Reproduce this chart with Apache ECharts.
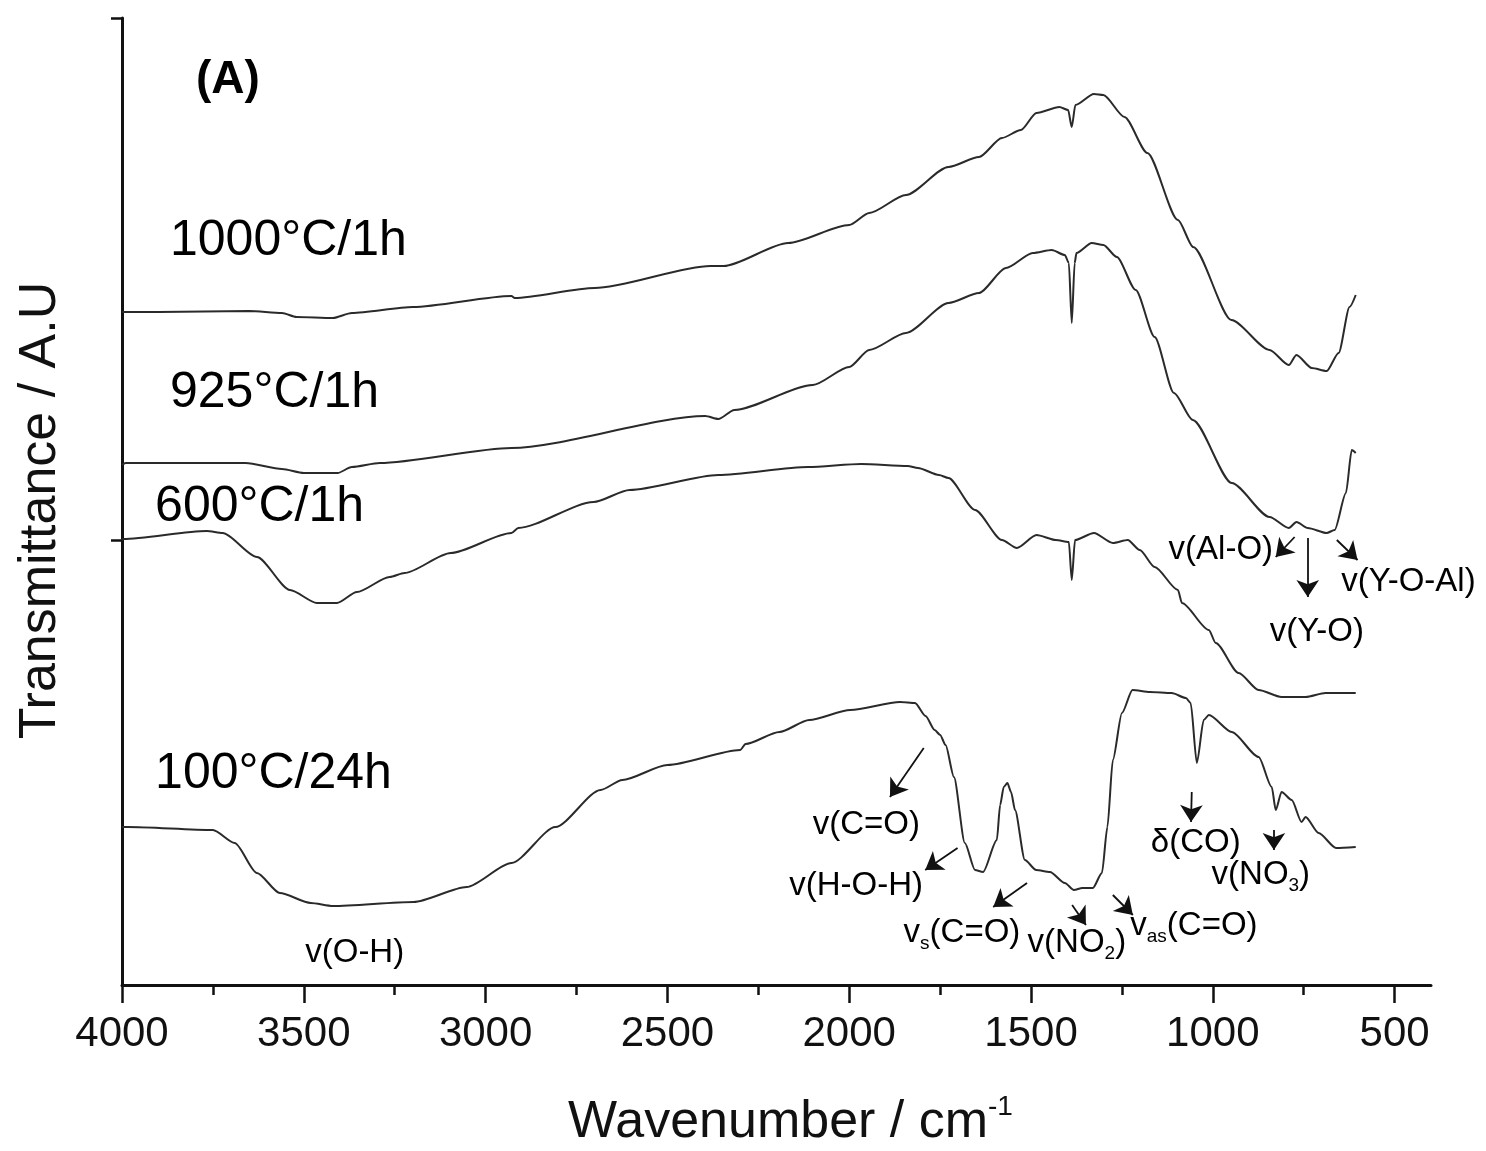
<!DOCTYPE html>
<html><head><meta charset="utf-8">
<script src="https://cdn.jsdelivr.net/npm/echarts@6/dist/echarts.min.js"></script>
<style>html,body{margin:0;padding:0;background:#fff}#c{width:1486px;height:1151px}</style>
</head><body><div id="c"></div>
<script>
// ---- data ----
const xTicks = [4000, 3500, 3000, 2500, 2000, 1500, 1000, 500];
const xMinorTicks = [3750, 3250, 2750, 2250, 1750, 1250, 750];
const yTicks = [445, 967];
const seriesNames = ['1000°C/1h', '925°C/1h', '600°C/1h', '100°C/24h'];

const s1000 = [[4000,673],[3900,673],[3650,674],[3560,672],[3520,668],[3420,667],[3368,672],[3200,678],[2929,689],[2920,687],[2700,697],[2382,719],[2345,719],[2168,742],[2000,760],[1945,772],[1844,790],[1727,818],[1643,828],[1580,847],[1528,855],[1485,872],[1422,878],[1398,875],[1388,858],[1378,880],[1327,891],[1301,890],[1243,868],[1180,832],[1096,765],[1054,738],[949,665],[844,635],[791,620],[770,630],[728,617],[687,614],[654,632],[624,678],[607,690]];

const s925 = [[4000,520],[3990,522],[3660,522],[3560,516],[3500,512],[3407,512],[3368,518],[3291,522],[2929,537],[2396,569],[2360,566],[2316,575],[2100,600],[2000,618],[1945,635],[1844,652],[1727,682],[1643,692],[1569,717],[1495,732],[1443,735],[1407,730],[1396,722],[1388,662],[1380,722],[1375,732],[1333,742],[1301,740],[1264,728],[1212,695],[1160,648],[1107,592],[1055,565],[948,502],[844,468],[791,457],[770,463],[739,457],[687,452],[665,455],[634,492],[618,535],[607,532]];

const s600 = [[4000,445],[3997,446],[3767,454],[3723,452],[3629,428],[3538,395],[3464,382],[3409,382],[3354,393],[3264,408],[3223,412],[3096,432],[2929,452],[2910,457],[2703,483],[2604,495],[2360,510],[2113,518],[1967,521],[1839,519],[1811,517],[1753,510],[1727,507],[1654,475],[1580,445],[1539,437],[1485,450],[1432,445],[1396,443],[1388,405],[1379,445],[1327,452],[1275,442],[1234,445],[1201,435],[1160,418],[1096,395],[1085,382],[1011,355],[992,342],[929,312],[874,295],[811,288],[745,288],[690,292],[607,292]];

const s100 = [[4000,158],[3984,158],[3750,155],[3690,142],[3629,112],[3566,92],[3481,82],[3420,79],[3198,83],[3052,98],[2929,122],[2808,158],[2684,195],[2624,205],[2500,220],[2300,235],[2285,241],[2192,253],[2110,265],[1997,275],[1860,283],[1819,282],[1790,269],[1765,255],[1750,250],[1735,240],[1712,208],[1682,142],[1654,115],[1632,113],[1594,145],[1585,180],[1575,198],[1565,202],[1555,193],[1544,175],[1517,125],[1486,115],[1448,113],[1407,102],[1382,95],[1359,97],[1330,97],[1305,112],[1290,158],[1275,225],[1250,272],[1221,295],[1173,293],[1113,292],[1074,287],[1061,282],[1044,222],[1025,265],[1011,270],[948,253],[874,228],[838,198],[827,175],[811,193],[783,185],[756,163],[745,168],[709,152],[661,137],[607,138]];

const seriesData = [s1000, s925, s600, s100];

// ---- annotations (layout) ----
const curveLabels = [
  {text: '1000°C/1h', x: 3868, y: 744},
  {text: '925°C/1h', x: 3868, y: 592},
  {text: '600°C/1h', x: 3909, y: 478},
  {text: '100°C/24h', x: 3909, y: 211}
];
const bandLabels = [
  {text: 'v(O-H)', x: 3360, y: 32},
  {text: 'v(C=O)', x: 1953, y: 160},
  {text: 'v(H-O-H)', x: 1981, y: 99},
  {text: 'v{sub|s}(C=O)', x: 1690, y: 52},
  {text: 'v(NO{sub|2})', x: 1374, y: 42},
  {text: 'v{sub|as}(C=O)', x: 1052, y: 59},
  {text: 'δ(CO)', x: 1047, y: 142},
  {text: 'v(NO{sub|3})', x: 868, y: 110},
  {text: 'v(Al-O)', x: 978, y: 435},
  {text: 'v(Y-O)', x: 714, y: 353},
  {text: 'v(Y-O-Al)', x: 462, y: 403}
];
const arrows = [
  [1795, 237, 1888, 188],
  [1702, 137, 1791, 115],
  [1511, 102, 1604, 78],
  [1387, 80, 1349, 60],
  [1275, 90, 1220, 70],
  [1058, 193, 1060, 163],
  [832, 155, 832, 135],
  [775, 448, 827, 428],
  [739, 447, 739, 388],
  [659, 445, 602, 425]
];

const FONT = "'Liberation Sans', Arial, sans-serif";
const INK = '#111111';

const chart = echarts.init(document.getElementById('c'), null, {renderer: 'canvas'});

const lineSeries = seriesData.map((d, i) => ({
  name: seriesNames[i],
  type: 'line',
  data: d,
  showSymbol: false,
  smooth: 0.25,
  smoothMonotone: 'x',
  lineStyle: {color: '#2a2a2a', width: 2},
  silent: true,
  z: 3
}));

function txt(extra) {
  return Object.assign({show: true, color: '#000', opacity: 1, textBorderWidth: 0, textShadowBlur: 0, fontFamily: FONT}, extra);
}

const option = {
  animation: false,
  backgroundColor: '#ffffff',
  grid: {left: 122, right: 55, top: 18, bottom: 166, containLabel: false, outerBoundsMode: 'none'},
  xAxis: [{
    type: 'value', inverse: true, min: 400, max: 4000,
    axisLine: {show: true, lineStyle: {color: INK, width: 3}},
    axisTick: {show: true, customValues: xTicks, length: 18, lineStyle: {color: INK, width: 2.5}},
    axisLabel: {show: true, customValues: xTicks, formatter: v => String(v), fontSize: 42, fontFamily: FONT, color: INK, margin: 28},
    splitLine: {show: false},
    name: 'Wavenumber / cm{sup|-1}',
    nameLocation: 'middle', nameGap: 108,
    nameTextStyle: {fontSize: 52, fontFamily: FONT, color: INK, lineHeight: 60, padding: [0, 0, 0, 28],
      rich: {sup: {fontSize: 28, fontFamily: FONT, color: INK, verticalAlign: 'top', lineHeight: 28}}}
  }, {
    type: 'value', inverse: true, min: 400, max: 4000, position: 'bottom',
    axisLine: {show: false},
    axisTick: {show: true, customValues: xMinorTicks, length: 10, lineStyle: {color: INK, width: 2.5}},
    axisLabel: {show: false, customValues: xMinorTicks},
    splitLine: {show: false}
  }],
  yAxis: {
    type: 'value', min: 0, max: 967,
    axisLine: {show: true, lineStyle: {color: INK, width: 3}},
    axisTick: {show: true, customValues: yTicks, length: 11, lineStyle: {color: INK, width: 2.5}},
    axisLabel: {show: false, customValues: yTicks},
    splitLine: {show: false},
    name: 'Transmittance / A.U',
    nameLocation: 'middle', nameGap: 55, nameRotate: 90,
    nameTextStyle: {fontSize: 52, fontFamily: FONT, color: INK, padding: [0, 18, 0, 0]}
  },
  series: lineSeries.concat([
    {
      type: 'lines', coordinateSystem: 'cartesian2d', silent: true, z: 4,
      symbol: ['none', 'arrow'], symbolSize: [1, 17],
      lineStyle: {color: '#111', width: 1.8, opacity: 1},
      data: arrows.map(a => ({coords: [[a[0], a[1]], [a[2], a[3]]]}))
    },
    {
      type: 'scatter', silent: true, z: 5, symbol: 'circle', symbolSize: 0,
      itemStyle: {color: '#000', opacity: 1},
      data: [{
        value: [3709, 905],
        label: txt({position: 'inside', formatter: '(A)', fontSize: 46, fontWeight: 'bold'})
      }].concat(curveLabels.map(l => ({
        value: [l.x, l.y],
        label: txt({position: 'right', distance: 0, formatter: l.text, fontSize: 50})
      }))).concat(bandLabels.map(l => ({
        value: [l.x, l.y],
        label: txt({position: 'inside', formatter: l.text, fontSize: 33, lineHeight: 40,
          rich: {sub: {fontSize: 19, fontFamily: FONT, color: '#000', verticalAlign: 'bottom', lineHeight: 19}}})
      })))
    }
  ])
};
chart.setOption(option);
</script>
</body></html>
